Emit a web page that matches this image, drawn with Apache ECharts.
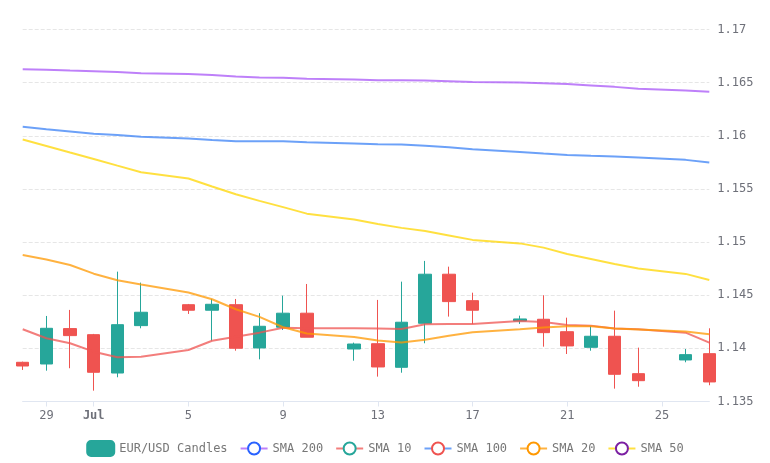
<!DOCTYPE html>
<html>
<head>
<meta charset="utf-8">
<script src="https://cdn.jsdelivr.net/npm/echarts@6/dist/echarts.min.js"></script>
<style>html,body{margin:0;padding:0;background:#fff;}#c{width:770px;height:463px;}</style>
</head>
<body>
<div id="c"></div>
<script>
const dates = ['2025-06-28','2025-06-29','2025-06-30','2025-07-01','2025-07-02','2025-07-03','2025-07-05','2025-07-06','2025-07-07','2025-07-08','2025-07-09','2025-07-10','2025-07-12','2025-07-13','2025-07-14','2025-07-15','2025-07-16','2025-07-17','2025-07-19','2025-07-20','2025-07-21','2025-07-22','2025-07-23','2025-07-24','2025-07-26','2025-07-27'];
const openVals  = [1.13869,1.13853,1.14186,1.14129,1.13768,1.14214,1.14411,1.14359,1.14411,1.14004,1.14199,1.14331,1.13994,1.14044,1.13822,1.14236,1.14698,1.14449,1.14258,1.14274,1.14157,1.14010,1.14114,1.13762,1.13891,1.13950];
const closeVals = [1.13834,1.14189,1.14120,1.13775,1.14223,1.14340,1.14359,1.14415,1.14001,1.14208,1.14331,1.14105,1.14041,1.13825,1.14246,1.14698,1.14440,1.14359,1.14277,1.14148,1.14023,1.14114,1.13756,1.13696,1.13941,1.13684];
const lowVals   = [1.13797,1.13790,1.13813,1.13602,1.13728,1.14189,1.14324,1.14073,1.13978,1.13897,1.14173,1.14105,1.13884,1.13734,1.13771,1.14048,1.14299,1.14230,1.14230,1.14016,1.13947,1.13978,1.13621,1.13639,1.13869,1.13653];
const highVals  = [1.13875,1.14305,1.14362,1.14136,1.14722,1.14619,1.14418,1.14465,1.14465,1.14331,1.14496,1.14606,1.14054,1.14456,1.14628,1.14823,1.14769,1.14524,1.14308,1.14500,1.14289,1.14211,1.14355,1.14007,1.13994,1.14189];
const sma200 = [1.16628,1.16623,1.16615,1.16609,1.16600,1.16590,1.16581,1.16572,1.16558,1.16549,1.16546,1.16537,1.16530,1.16524,1.16524,1.16521,1.16515,1.16508,1.16502,1.16496,1.16487,1.16474,1.16461,1.16443,1.16427,1.16414];
const sma100 = [1.16085,1.16063,1.16042,1.16019,1.16009,1.15991,1.15975,1.15962,1.15950,1.15950,1.15950,1.15941,1.15929,1.15922,1.15918,1.15906,1.15892,1.15873,1.15849,1.15833,1.15821,1.15812,1.15805,1.15796,1.15774,1.15749];
const sma50  = [1.15965,1.15904,1.15843,1.15783,1.15720,1.15658,1.15598,1.15524,1.15451,1.15388,1.15329,1.15268,1.15212,1.15171,1.15134,1.15105,1.15063,1.15021,1.14988,1.14948,1.14889,1.14842,1.14795,1.14752,1.14701,1.14644];
const sma20  = [1.14879,1.14837,1.14785,1.14703,1.14641,1.14602,1.14526,1.14462,1.14368,1.14296,1.14199,1.14140,1.14107,1.14074,1.14056,1.14081,1.14119,1.14152,1.14180,1.14197,1.14208,1.14208,1.14187,1.14178,1.14159,1.14134];
const sma10  = [1.14180,1.14095,1.14048,1.13969,1.13916,1.13922,1.13985,1.14072,1.14110,1.14148,1.14195,1.14189,1.14189,1.14187,1.14183,1.14227,1.14230,1.14230,1.14258,1.14249,1.14220,1.14214,1.14186,1.14180,1.14148,1.14054];
const yTicks = {min: 1.135, max: 1.17, interval: 0.005};

const candleData = dates.map((d, i) => [d, openVals[i], closeVals[i], lowVals[i], highVals[i]]);
const pair = arr => dates.map((d, i) => [d, arr[i]]);
const FONT = 'DejaVu Sans Mono';

function sma(name, arr, lineColor, itemColor) {
  return {
    name: name, type: 'line', data: pair(arr),
    showSymbol: false, symbol: 'emptyCircle', symbolSize: 6,
    lineStyle: {color: lineColor, width: 2, opacity: 0.75},
    itemStyle: {color: itemColor, borderWidth: 2},
    emphasis: {disabled: true}
  };
}

const chart = echarts.init(document.getElementById('c'));
chart.setOption({
  animation: false,
  textStyle: {fontFamily: FONT},
  legend: {
    bottom: 1, left: 'center',
    itemWidth: 27, itemHeight: 15, itemGap: 12,
    textStyle: {fontFamily: FONT, fontSize: 12, color: '#777'},
    data: ['EUR/USD Candles', 'SMA 200', 'SMA 10', 'SMA 100', 'SMA 20', 'SMA 50']
  },
  grid: {left: 22.7, right: 60.7, top: 29.6, bottom: 61.5, containLabel: false},
  xAxis: {
    type: 'time',
    min: '2025-06-28', max: '2025-07-27',
    axisLine: {lineStyle: {color: '#E0E6F1'}},
    axisTick: {lineStyle: {color: '#E0E6F1'}},
    axisLabel: {fontFamily: FONT, fontSize: 12, color: '#6E7079'},
    splitLine: {show: false}
  },
  yAxis: {
    type: 'value', position: 'right', scale: true,
    min: yTicks.min, max: yTicks.max, interval: yTicks.interval,
    axisLine: {show: false}, axisTick: {show: false},
    axisLabel: {fontFamily: FONT, fontSize: 12, color: '#6E7079', margin: 8},
    splitLine: {lineStyle: {type: 'dashed', color: '#E6E6E6'}}
  },
  series: [
    {
      name: 'EUR/USD Candles', type: 'candlestick', data: candleData,
      barWidth: 13,
      itemStyle: {color: '#26a69a', color0: '#ef5350', borderColor: '#26a69a', borderColor0: '#ef5350'}
    },
    sma('SMA 200', sma200, '#a855f7', '#2962ff'),
    sma('SMA 10', sma10, '#ef5350', '#26a69a'),
    sma('SMA 100', sma100, '#3b82f6', '#ef5350'),
    sma('SMA 20', sma20, '#ff9800', '#ff9800'),
    sma('SMA 50', sma50, '#ffd600', '#7b1fa2')
  ]
});
</script>
</body>
</html>
